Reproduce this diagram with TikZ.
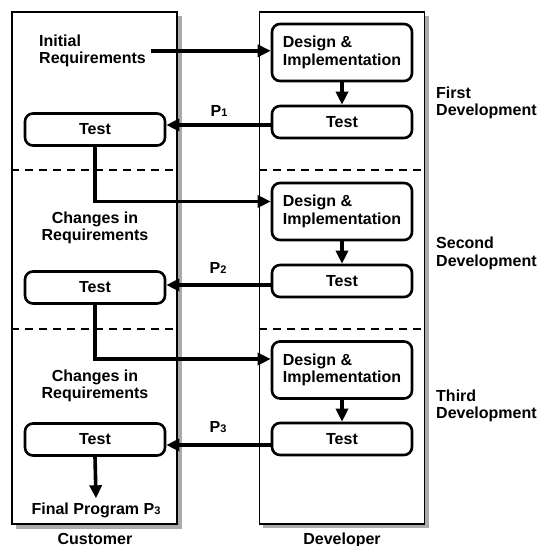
\documentclass[tikz,border=0pt]{standalone}
\usepackage{fontspec}
\setmainfont{Liberation Sans}
\usetikzlibrary{arrows.meta}

\newcommand{\pidx}[1]{P{\fontsize{11}{11}\selectfont #1}}

\tikzset{
	lane/.style={draw, line width=1.8pt, fill=white, minimum width=165pt, minimum height=512pt},
	shade/.style={fill=black!33},
	work/.style={draw, line width=2.6pt, rounded corners=8pt, fill=white, minimum width=140pt, align=left, inner xsep=9pt},
	flow/.style={line width=3.6pt, -{Triangle[length=13pt,width=12pt]}},
	txt/.style={inner sep=0pt},
	cut/.style={line width=1.8pt, dash pattern=on 8pt off 6pt}
}

\begin{document}
\begin{tikzpicture}[x=1pt,y=-1pt, font=\fontsize{16}{17.5}\selectfont\bfseries]
	\useasboundingbox (0,0) rectangle (544,546);
	% lanes
	\fill[shade] (16,16) rectangle (182,529);
	\fill[shade] (263,16) rectangle (429,528);
	\node[lane] (cust) at (94.5,268) {};
	\node[lane] (dev) at (342,268) {};
	\draw[cut] (cust.west |- 0,170) -- (cust.east |- 0,170);
	\draw[cut] (dev.west |- 0,170) -- (dev.east |- 0,170);
	\draw[cut] (cust.west |- 0,329) -- (cust.east |- 0,329);
	\draw[cut] (dev.west |- 0,329) -- (dev.east |- 0,329);
	\node[txt, anchor=base] (custname) at (95,544) {Customer};
	\node[txt, anchor=base] (devname) at (342,544) {Developer};
	% first development
	\node[txt, anchor=west, align=left] (initreq) at (39,50.8) {Initial\\Requirements};
	\node[work, minimum height=57pt] (di1) at (342,52.5) {Design \&\\Implementation};
	\node[work, minimum height=32pt] (dt1) at (342,122) {Test};
	\node[work, minimum height=32pt] (ct1) at (95,129.5) {Test};
	\node[txt] (p1) at (219,111) {\pidx{1}};
	\node[txt, anchor=west, align=left] (dev1) at (436,102.7) {First\\Development};
	\draw[flow] ([xshift=5pt]initreq.east) -- (initreq.east -| di1.west);
	\draw[flow] (di1.south) -- (dt1.north);
	\draw[flow] ([yshift=-3pt]dt1.west) -- ([yshift=-3pt]dt1.west -| ct1.east);
	% second development
	\node[txt, align=center] (chg1) at (95,228) {Changes in\\Requirements};
	\node[work, minimum height=57pt] (di2) at (342,211.5) {Design \&\\Implementation};
	\node[work, minimum height=32pt] (dt2) at (342,281) {Test};
	\node[work, minimum height=32pt] (ct2) at (95,287.5) {Test};
	\node[txt] (p2) at (218,268) {\pidx{2}};
	\node[txt, anchor=west, align=left] (dev2) at (436,253.6) {Second\\Development};
	\draw[flow] (ct1.south) |- ([yshift=10pt]di2.west);
	\draw[flow] (di2.south) -- (dt2.north);
	\draw[flow] ([yshift=-4pt]dt2.west) -- ([yshift=-4pt]dt2.west -| ct2.east);
	% third development
	\node[txt, align=center] (chg2) at (95,386) {Changes in\\Requirements};
	\node[work, minimum height=57pt] (di3) at (342,370) {Design \&\\Implementation};
	\node[work, minimum height=32pt] (dt3) at (342,439) {Test};
	\node[work, minimum height=32pt] (ct3) at (95,439.5) {Test};
	\node[txt] (p3) at (218,427) {\pidx{3}};
	\node[txt, anchor=west, align=left] (dev3) at (436,406) {Third\\Development};
	\draw[flow] (ct2.south) |- ([yshift=11pt]di3.west);
	\draw[flow] (di3.south) -- (dt3.north);
	\draw[flow] ([yshift=-6pt]dt3.west) -- ([yshift=-6pt]dt3.west -| ct3.east);
	% result
	\node[txt, inner sep=4pt] (final) at (96,510) {Final Program \pidx{3}};
	\draw[flow] (ct3.south) -- (final.north);
\end{tikzpicture}
\end{document}
